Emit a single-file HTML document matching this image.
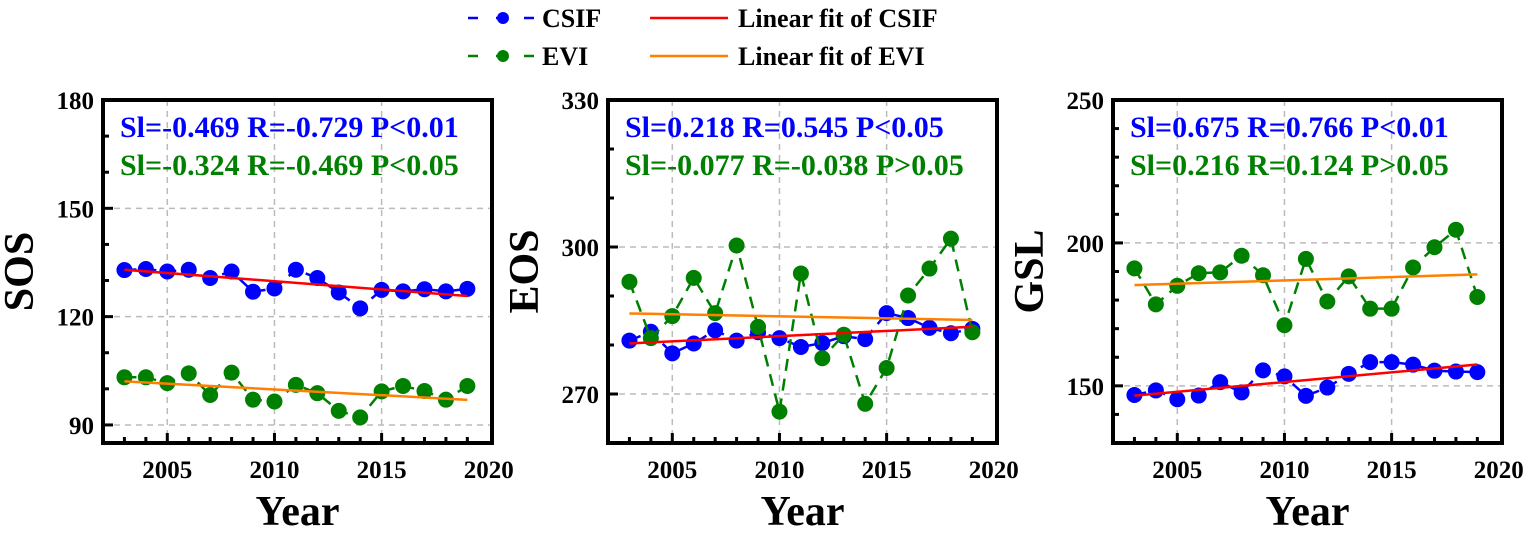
<!DOCTYPE html>
<html><head><meta charset="utf-8"><style>
body{margin:0;background:#fff;}
svg text{font-family:"Liberation Serif",serif;font-weight:bold;}
</style></head><body>
<svg id="chart" width="1535" height="532" viewBox="0 0 1535 532" xmlns="http://www.w3.org/2000/svg" font-family="Liberation Serif, serif" font-weight="bold">
<g>
  <g>
    <line x1="468" y1="18" x2="536" y2="18" stroke="#0000ff" stroke-width="2.5" stroke-dasharray="10,18"/>
    <circle cx="503" cy="18" r="6" fill="#0000ff"/>
    <text x="542" y="27" font-size="26">CSIF</text>
  </g>
  <g>
    <line x1="468" y1="56" x2="536" y2="56" stroke="#008000" stroke-width="2.5" stroke-dasharray="10,18"/>
    <circle cx="503" cy="56" r="6" fill="#008000"/>
    <text x="542" y="65" font-size="26">EVI</text>
  </g>
  <g>
    <line x1="650" y1="18" x2="728" y2="18" stroke="#ff0000" stroke-width="2.5"/>
    <text x="738" y="27" font-size="26">Linear fit of CSIF</text>
  </g>
  <g>
    <line x1="650" y1="56" x2="728" y2="56" stroke="#ff7f00" stroke-width="2.5"/>
    <text x="738" y="65" font-size="26">Linear fit of EVI</text>
  </g>
</g>
</svg>
<script>
const years=[2003,2004,2005,2006,2007,2008,2009,2010,2011,2012,2013,2014,2015,2016,2017,2018,2019];
const sosCsif=[132.9,133.2,132.5,133,130.7,132.5,126.9,127.8,133,130.7,126.7,122.3,127.4,127,127.6,127,127.7];
const sosEvi=[103.2,103.2,101.6,104.3,98.3,104.5,97,96.5,101.1,98.8,93.9,92.1,99.3,100.8,99.4,97,100.8];
const eosCsif=[280.9,282.7,278.3,280.3,283,280.9,282.6,281.4,279.6,280.4,281.8,281.2,286.5,285.5,283.5,282.4,283.3];
const eosEvi=[292.9,281.4,285.9,293.7,286.5,300.3,283.7,266.4,294.6,277.3,282.1,268,275.3,290.1,295.6,301.7,282.6];
const gslCsif=[146.8,148.4,145.3,146.6,151.3,147.7,155.4,153.3,146.5,149.4,154.2,158.3,158.3,157.4,155.3,155,154.8];
const gslEvi=[191.1,178.5,185,189.4,189.7,195.5,188.7,171.2,194.4,179.5,188.3,177,177,191.4,198.5,204.6,181.1];
const xTicks=[2005,2010,2015,2020];
const sosTicks=[90,120,150,180];
const eosTicks=[270,300,330];
const gslTicks=[150,200,250];
const statsCsif=["Sl=-0.469 R=-0.729 P<0.01","Sl=0.218 R=0.545 P<0.05","Sl=0.675 R=0.766 P<0.01"];
const statsEvi=["Sl=-0.324 R=-0.469 P<0.05","Sl=-0.077 R=-0.038 P>0.05","Sl=0.216 R=0.124 P>0.05"];

const NS="http://www.w3.org/2000/svg";
const svg=document.getElementById('chart');
function mk(tag,attrs,parent){const e=document.createElementNS(NS,tag);for(const k in attrs)e.setAttribute(k,attrs[k]);if(tag==='text'){e.setAttribute('font-family','Liberation Serif, serif');e.setAttribute('font-weight','bold');}(parent||svg).appendChild(e);return e;}
function fit(xs,ys){const n=xs.length;let mx=0,my=0;for(let i=0;i<n;i++){mx+=xs[i];my+=ys[i];}mx/=n;my/=n;let sxy=0,sxx=0;for(let i=0;i<n;i++){sxy+=(xs[i]-mx)*(ys[i]-my);sxx+=(xs[i]-mx)**2;}const b=sxy/sxx;return [b,my-b*mx];}

const panels=[
 {left:103,title:"SOS",ymin:85,ymax:180,ticks:sosTicks,minor:10,csif:sosCsif,evi:sosEvi},
 {left:608,title:"EOS",ymin:260,ymax:330,ticks:eosTicks,minor:10,csif:eosCsif,evi:eosEvi},
 {left:1113,title:"GSL",ymin:130,ymax:250,ticks:gslTicks,minor:10,csif:gslCsif,evi:gslEvi}
];
const plotTop=100,plotBottom=443,W=389,xmin=2002,xmax=2020.15;
panels.forEach((p,pi)=>{
  const g=mk('g',{});
  
  
  const X=v=>p.left+(v-xmin)/(xmax-xmin)*W;
  const Y=v=>plotBottom-(v-p.ymin)/(p.ymax-p.ymin)*(plotBottom-plotTop);
  xTicks.forEach(t=>{if(t<xmax-0.5){const l=mk('line',{x1:X(t),x2:X(t),y1:plotTop,y2:plotBottom,stroke:'#bbb','stroke-width':1.5,'stroke-dasharray':'6,5'},g);
    
    }});
  p.ticks.forEach(t=>{if(t<p.ymax-1&&t>p.ymin){const l=mk('line',{x1:p.left,x2:p.left+W,y1:Y(t),y2:Y(t),stroke:'#bbb','stroke-width':1.5,'stroke-dasharray':'6,5'},g);
    
    }});
  for(let v=Math.ceil(p.ymin/p.minor)*p.minor;v<=p.ymax;v+=p.minor){const major=p.ticks.includes(v);
    mk('line',{x1:p.left,x2:p.left+(major?10:6),y1:Y(v),y2:Y(v),stroke:'#000','stroke-width':3},g);}
  for(let v=2003;v<=2019;v++){const major=v%5===0;mk('line',{x1:X(v),x2:X(v),y1:plotBottom,y2:plotBottom-(major?10:6),stroke:'#000','stroke-width':3},g);}
  p.ticks.forEach(t=>{const tx=mk('text',{x:p.left-9,y:Y(t)+9,'text-anchor':'end','font-size':25},g);tx.textContent=t;
    
    });
  xTicks.forEach(t=>{const tx=mk('text',{x:X(t),y:478,'text-anchor':'middle','font-size':25},g);tx.textContent=t;
    
    });
  const yt=mk('text',{x:0,y:0,'text-anchor':'middle','font-size':42,transform:`translate(${p.left-70},${(plotTop+plotBottom)/2}) rotate(-90)`},g);
  yt.textContent=p.title;
  
  
  const xt=mk('text',{x:p.left+W/2,y:525,'text-anchor':'middle','font-size':42},g);
  xt.textContent="Year";
  
  
  [[p.csif,'#0000ff','csif'],[p.evi,'#008000','evi']].forEach(([d,c,n])=>{
    const pts=d.map((v,i)=>X(years[i])+','+Y(v)).join(' ');
    const pl=mk('polyline',{points:pts,fill:'none',stroke:c,'stroke-width':2.5,'stroke-dasharray':'12,8'},g);
    
    
    d.forEach((v,i)=>{const ci=mk('circle',{cx:X(years[i]),cy:Y(v),r:8,fill:c},g);
      
      });
  });
  [[p.csif,'#ff0000','csif'],[p.evi,'#ff7f00','evi']].forEach(([d,c,n])=>{
    const [b,a]=fit(years,d);
    const l=mk('line',{x1:X(2003),y1:Y(a+b*2003),x2:X(2019),y2:Y(a+b*2019),stroke:c,'stroke-width':2.5},g);
    
    
  });
  const fr=mk('rect',{x:p.left,y:plotTop,width:W,height:plotBottom-plotTop,fill:'none',stroke:'#000','stroke-width':4},g);
  
  
  const s1=mk('text',{x:p.left+17,y:137,'font-size':30,fill:'#0000ff'},g);s1.textContent=statsCsif[pi];
  
  
  const s2=mk('text',{x:p.left+17,y:175,'font-size':30,fill:'#008000'},g);s2.textContent=statsEvi[pi];
  
  
});
</script>
</body></html>
